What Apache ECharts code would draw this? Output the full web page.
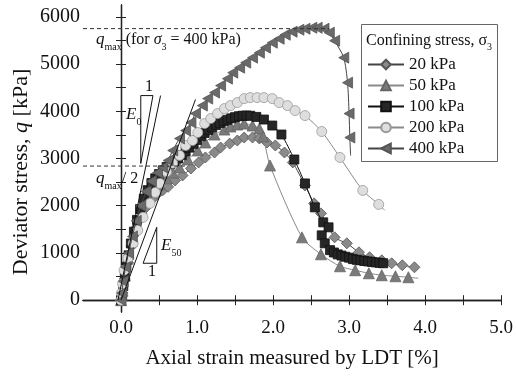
<!DOCTYPE html>
<html><head><meta charset="utf-8">
<script src="https://cdn.jsdelivr.net/npm/echarts@6/dist/echarts.min.js"></script>
<style>html,body{margin:0;padding:0;background:#fff}#c{width:516px;height:376px}</style>
</head><body><div id="c"></div>
<script>
const seriesNames = ['20 kPa', '50 kPa', '100 kPa', '200 kPa', '400 kPa'];
const xTickLabels = [0, 1, 2, 3, 4, 5];
const xTicks = [0, 0.5, 1, 1.5, 2, 2.5, 3, 3.5, 4, 4.5, 5];
const yTickLabels = [0, 1000, 2000, 3000, 4000, 5000, 6000];
const yTicks = [0, 500, 1000, 1500, 2000, 2500, 3000, 3500, 4000, 4500, 5000, 5500, 6000];

const strain20 = [0, 0.02, 0.05, 0.09, 0.14, 0.2, 0.27, 0.34, 0.41, 0.48, 0.55, 0.62, 0.71, 0.81, 0.92, 1.02, 1.11, 1.23, 1.31, 1.43, 1.53, 1.62, 1.73, 1.82, 1.92, 2.03, 2.15, 2.26, 2.42, 2.54, 2.63, 2.81, 2.97, 3.13, 3.27, 3.43, 3.56, 3.70, 3.86];
const q20 = [0, 150, 450, 800, 1150, 1450, 1750, 1980, 2130, 2250, 2330, 2400, 2536, 2641, 2789, 2916, 3022, 3127, 3233, 3317, 3381, 3444, 3444, 3423, 3339, 3275, 3127, 2916, 2430, 2050, 1838, 1331, 1204, 1014, 909, 845, 782, 740, 697];

const strain50 = [0, 0.02, 0.05, 0.09, 0.14, 0.2, 0.27, 0.35, 0.43, 0.51, 0.6, 0.68, 0.77, 0.88, 1.01, 1.11, 1.23, 1.36, 1.44, 1.53, 1.62, 1.73, 1.82, 1.87, 1.96, 2.38, 2.63, 2.88, 3.08, 3.26, 3.43, 3.61, 3.78];
const q50 = [0, 200, 520, 880, 1250, 1620, 1950, 2220, 2330, 2450, 2580, 2700, 2810, 2980, 3170, 3339, 3508, 3613, 3677, 3719, 3740, 3698, 3634, 3465, 2852, 1331, 972, 718, 634, 570, 528, 507, 486];
const end50 = [3.91, 465];

const strain100 = [0, 0.01, 0.03, 0.05, 0.07, 0.1, 0.13, 0.17, 0.21, 0.25, 0.3, 0.35, 0.4, 0.45, 0.5, 0.55, 0.6, 0.65, 0.7, 0.75, 0.8, 0.85, 0.9, 0.95, 1.0, 1.05, 1.1, 1.15, 1.2, 1.25, 1.3, 1.35, 1.4, 1.45, 1.5, 1.55, 1.6, 1.65, 1.7, 1.78, 1.88, 1.99, 2.11, 2.28, 2.42, 2.55, 2.66, 2.73, 2.64, 2.68, 2.75, 2.8, 2.85, 2.9, 2.95, 3.0, 3.05, 3.1, 3.15, 3.2, 3.25, 3.3, 3.35, 3.4, 3.45];
const q100 = [0, 100, 300, 500, 700, 950, 1200, 1450, 1700, 1930, 2150, 2330, 2480, 2580, 2670, 2750, 2820, 2880, 2940, 3000, 3070, 3150, 3230, 3310, 3390, 3470, 3540, 3600, 3660, 3710, 3750, 3790, 3820, 3850, 3875, 3895, 3905, 3910, 3905, 3880, 3825, 3698, 3508, 2979, 2472, 1965, 1648, 1543, 1373, 1204, 1060, 1010, 970, 945, 920, 900, 870, 855, 845, 830, 820, 810, 800, 790, 782];

const strain200 = [0, 0.01, 0.02, 0.04, 0.09, 0.16, 0.22, 0.29, 0.38, 0.45, 0.51, 0.6, 0.68, 0.77, 0.85, 0.94, 1.01, 1.10, 1.18, 1.27, 1.36, 1.44, 1.53, 1.62, 1.70, 1.79, 1.88, 1.99, 2.08, 2.19, 2.29, 2.42, 2.64, 2.88, 3.18, 3.39];
const q200 = [0, 150, 350, 634, 887, 1204, 1479, 1754, 2050, 2280, 2472, 2720, 2900, 3064, 3275, 3381, 3550, 3740, 3846, 3951, 4057, 4120, 4184, 4268, 4289, 4289, 4289, 4268, 4184, 4120, 4015, 3909, 3571, 3022, 2324, 2028];
const end200 = [3.47, 1902];

const strain400 = [0, 0.01, 0.03, 0.06, 0.1, 0.15, 0.2, 0.26, 0.33, 0.4, 0.48, 0.55, 0.62, 0.68, 0.77, 0.85, 0.92, 0.98, 1.07, 1.14, 1.23, 1.31, 1.40, 1.47, 1.56, 1.64, 1.73, 1.82, 1.90, 1.99, 2.08, 2.16, 2.25, 2.34, 2.42, 2.51, 2.58, 2.67, 2.74, 2.81, 2.93, 2.98, 3.00, 3.01];
const q400 = [0, 150, 400, 700, 1000, 1350, 1680, 2000, 2300, 2520, 2700, 2810, 2958, 3170, 3423, 3592, 3761, 3951, 4120, 4268, 4395, 4543, 4691, 4818, 4923, 5029, 5135, 5240, 5346, 5452, 5536, 5621, 5684, 5726, 5747, 5768, 5768, 5747, 5663, 5494, 5135, 4606, 3951, 3444];
const end400 = [3.02, 3064];

const qMax = 5750;
const qMaxLineX = [-0.5, 2.74];
const qHalf = 2840;
const qHalfLineX = [-0.5, 0.85];
const e0Line = [[-0.04, 0], [0.52, 4332]];
const e50Line = [[0, 0], [0.98, 4250]];
const e0Triangle = [[0.26, 2895], [0.26, 4332], [0.42, 4332], [0.26, 2895]];
const e50Triangle = [[0.29, 782], [0.47, 1543], [0.47, 782], [0.29, 782]];

const SERIF = 'Liberation Serif';

function pairs(xs, ys, end) {
  const d = xs.map((x, i) => [x, ys[i]]);
  if (end) d.push({ value: end, symbol: 'none' });
  return d;
}

function dataSeries(name, xs, ys, end, sym, size, fill, border, lineColor, z) {
  return {
    name, type: 'line', data: pairs(xs, ys, end), symbol: sym, symbolSize: size,
    smooth: 0.25, z,
    itemStyle: { color: fill, borderColor: border, borderWidth: 0.8, opacity: 1 },
    lineStyle: { color: lineColor, width: 1 },
    emphasis: { disabled: true }, animation: false
  };
}

function annot(data, dashed) {
  return {
    type: 'line', data, symbol: 'none', silent: true, z: 20,
    lineStyle: { color: dashed ? '#333' : '#111', width: 1, type: dashed ? [4, 3] : 'solid' },
    animation: false
  };
}

const axisCommon = {
  axisLine: { lineStyle: { color: '#222', width: 1.3 } },
  axisTick: { inside: true, length: 5, lineStyle: { color: '#222', width: 1 } },
  splitLine: { show: false }
};

const chart = echarts.init(document.getElementById('c'), null, { renderer: 'canvas' });

const option = {
  backgroundColor: '#fff',
  animation: false,
  grid: { left: 83, right: 11, top: 5, bottom: 64, containLabel: false },
  xAxis: [
    Object.assign({}, axisCommon, {
      type: 'value', min: -0.5, max: 5, position: 'bottom',
      axisTick: Object.assign({}, axisCommon.axisTick, { customValues: xTicks }),
      axisLabel: { customValues: xTickLabels, formatter: v => Number(v).toFixed(1), fontFamily: SERIF, fontSize: 19, color: '#111', margin: 7 },
      name: 'Axial strain measured by LDT [%]', nameLocation: 'middle', nameGap: 36,
      nameTextStyle: { fontFamily: SERIF, fontSize: 21, color: '#111' }
    }),
    Object.assign({}, axisCommon, {
      type: 'value', min: -0.5, max: 5, position: 'top',
      axisTick: Object.assign({}, axisCommon.axisTick, { customValues: xTicks }),
      axisLabel: { show: false }
    })
  ],
  yAxis: [
    Object.assign({}, axisCommon, {
      type: 'value', min: -250, max: 6250, position: 'left',
      axisTick: Object.assign({}, axisCommon.axisTick, { customValues: yTicks }),
      axisLabel: { customValues: yTickLabels, formatter: v => String(Math.round(v)), fontFamily: SERIF, fontSize: 20, color: '#111', margin: 3 }
    }),
    Object.assign({}, axisCommon, {
      type: 'value', min: -250, max: 6250, position: 'right',
      axisTick: Object.assign({}, axisCommon.axisTick, { customValues: yTicks }),
      axisLabel: { show: false }
    })
  ],
  legend: {
    data: seriesNames, orient: 'vertical', left: 367, top: 56,
    itemWidth: 36, itemHeight: 12, itemGap: 4, padding: 0,
    textStyle: { fontFamily: SERIF, fontSize: 17, color: '#111' },
    selectedMode: false
  },
  graphic: [
    { type: 'rect', shape: { x: 361.5, y: 24.5, width: 136, height: 137 }, style: { fill: 'none', stroke: '#666', lineWidth: 1 }, z: 100 },
    { type: 'text', x: 366, y: 33, z: 100, style: {
        text: '{n|Confining stress, σ}{s|3}', rich: {
          n: { fontFamily: SERIF, fontSize: 16, fill: '#111', verticalAlign: 'bottom', padding: [0, 0, 3, 0] },
          s: { fontFamily: SERIF, fontSize: 10, fill: '#111', verticalAlign: 'bottom' } } } },
    { type: 'text', x: 96, y: 31, z: 100, style: {
        text: '{i|q}{s|max}{n| (for }{g|σ}{s|3}{n| = 400 kPa)}', rich: {
          i: { fontFamily: SERIF, fontStyle: 'italic', fontSize: 17, fill: '#111', verticalAlign: 'bottom', padding: [0, 0, 4, 0] },
          g: { fontFamily: SERIF, fontStyle: 'italic', fontSize: 16, fill: '#111', verticalAlign: 'bottom', padding: [0, 0, 4, 0] },
          n: { fontFamily: SERIF, fontSize: 16, fill: '#111', verticalAlign: 'bottom', padding: [0, 0, 4, 0] },
          s: { fontFamily: SERIF, fontSize: 10, fill: '#111', verticalAlign: 'bottom' } } } },
    { type: 'text', x: 96, y: 170, z: 100, style: {
        text: '{i|q}{s|max}{n|/ 2}', rich: {
          i: { fontFamily: SERIF, fontStyle: 'italic', fontSize: 17, fill: '#111', verticalAlign: 'bottom', padding: [0, 0, 4, 0] },
          n: { fontFamily: SERIF, fontSize: 16, fill: '#111', verticalAlign: 'bottom', padding: [0, 0, 4, 0] },
          s: { fontFamily: SERIF, fontSize: 10, fill: '#111', verticalAlign: 'bottom' } } } },
    { type: 'text', x: 126, y: 106, z: 100, style: {
        text: '{i|E}{s|0}', rich: {
          i: { fontFamily: SERIF, fontStyle: 'italic', fontSize: 17, fill: '#111', verticalAlign: 'bottom', padding: [0, 0, 4, 0] },
          s: { fontFamily: SERIF, fontSize: 10, fill: '#111', verticalAlign: 'bottom' } } } },
    { type: 'text', x: 145, y: 79, z: 100, style: { text: '1', fontFamily: SERIF, fontSize: 16, fill: '#111' } },
    { type: 'text', x: 161, y: 237, z: 100, style: {
        text: '{i|E}{s|50}', rich: {
          i: { fontFamily: SERIF, fontStyle: 'italic', fontSize: 17, fill: '#111', verticalAlign: 'bottom', padding: [0, 0, 4, 0] },
          s: { fontFamily: SERIF, fontSize: 10, fill: '#111', verticalAlign: 'bottom' } } } },
    { type: 'text', x: 148, y: 264, z: 100, style: { text: '1', fontFamily: SERIF, fontSize: 16, fill: '#111' } },
    { type: 'text', x: 21, y: 172, rotation: Math.PI / 2, z: 100, style: {
        text: '{n|Deviator stress, }{i|q}{n| [kPa]}', align: 'center', verticalAlign: 'middle', rich: {
          n: { fontFamily: SERIF, fontSize: 22, fill: '#111' },
          i: { fontFamily: SERIF, fontStyle: 'italic', fontSize: 22, fill: '#111' } } } }
  ],
  series: [
    dataSeries('20 kPa', strain20, q20, null, 'diamond', 11, '#8a8a8a', '#555', '#444', 3),
    dataSeries('50 kPa', strain50, q50, end50, 'triangle', 11, '#7a7a7a', '#666', '#8a8a8a', 4),
    dataSeries('100 kPa', strain100, q100, null, 'rect', 9, '#262626', '#111', '#111', 5),
    dataSeries('200 kPa', strain200, q200, end200, 'circle', 10, '#dedede', '#999', '#8a8a8a', 6),
    dataSeries('400 kPa', strain400, q400, end400, 'path://M0,5L10,0L10,10Z', [10, 11], '#6a6a6a', '#555', '#444', 7),
    annot([[qMaxLineX[0], qMax], [qMaxLineX[1], qMax]], true),
    annot([[qHalfLineX[0], qHalf], [qHalfLineX[1], qHalf]], true),
    annot(e0Line, false),
    annot(e50Line, false),
    annot(e0Triangle, false),
    annot(e50Triangle, false)
  ]
};
chart.setOption(option);
</script>
</body></html>
